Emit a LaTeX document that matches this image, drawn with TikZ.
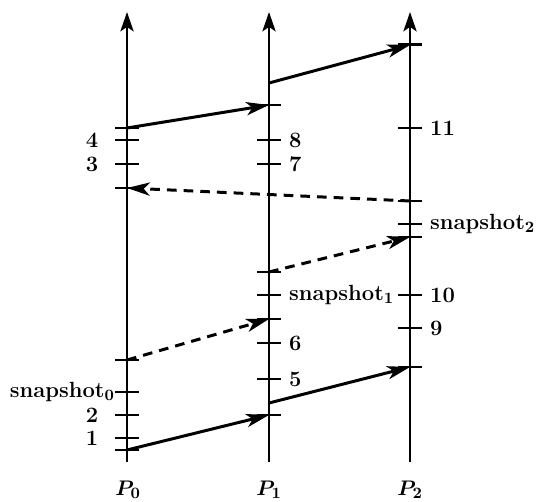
\documentclass[tikz,border=0pt]{standalone}
\usepackage{amsmath,amssymb}
\usepackage{xcolor}
\usetikzlibrary{positioning,arrows.meta}

\begin{document}
\begin{tikzpicture}[x=0.02cm,y=-0.02cm,
    procline/.style={line width=1.5pt,-{Stealth[length=11pt,width=7.5pt,inset=2.5pt]}},
    evtick/.style={line width=1.7pt},
    msg/.style={line width=1.7pt,-{Stealth[length=13pt,width=7.5pt,inset=3.5pt]}},
    marker/.style={msg,dash pattern=on 5.5pt off 4pt},
    lbl/.style={font=\fontsize{12.5}{15}\selectfont\bfseries\boldmath,inner sep=0.5pt}]
  \useasboundingbox (0,0) rectangle (536,502);

  % Process time lines
  \coordinate (P0bot) at (127,462); \coordinate (P0top) at (127,12);
  \coordinate (P1bot) at (269,462); \coordinate (P1top) at (269,12);
  \coordinate (P2bot) at (410,462); \coordinate (P2top) at (410,12);
  \draw[procline] (P0bot) -- (P0top);
  \draw[procline] (P1bot) -- (P1top);
  \draw[procline] (P2bot) -- (P2top);

  % Events of P0 (bottom to top)
  \coordinate (a1) at (127,450);
  \coordinate (a2) at (127,438);
  \coordinate (a3) at (127,415);
  \coordinate (a4) at (127,392);
  \coordinate (a5) at (127,360);
  \coordinate (a6) at (127,188);
  \coordinate (a7) at (127,164);
  \coordinate (a8) at (127,140);
  \coordinate (a9) at (127,128);

  % Events of P1
  \coordinate (b1) at (269,415);
  \coordinate (b2) at (269,403);
  \coordinate (b3) at (269,379);
  \coordinate (b4) at (269,343);
  \coordinate (b5) at (269,319);
  \coordinate (b6) at (269,295);
  \coordinate (b7) at (269,272);
  \coordinate (b8) at (269,164);
  \coordinate (b9) at (269,140);
  \coordinate (b10) at (269,105);
  \coordinate (b11) at (269,83);

  % Events of P2
  \coordinate (c1) at (410,367);
  \coordinate (c2) at (410,328);
  \coordinate (c3) at (410,295);
  \coordinate (c4) at (410,237);
  \coordinate (c5) at (410,224);
  \coordinate (c6) at (410,201);
  \coordinate (c7) at (410,128);
  \coordinate (c8) at (410,45);

  % Ticks
  \foreach \e in {a1,a2,a3,a4,a5,a6,a7,a8,a9,
                  b1,b3,b4,b5,b6,b7,b8,b9,b10,
                  c1,c2,c3,c4,c5,c6,c7,c8}
    \draw[evtick] (\e) ++(-12,0) -- ++(24,0);

  % Messages
  \draw[msg] (a1) -- (b1);
  \draw[msg] (b2) -- (c1);
  \draw[msg] (a9) -- (b10);
  \draw[msg] (b11) -- (c8);
  % Marker messages
  \draw[marker] (a5) -- (b5);
  \draw[marker] (b7) -- (c4);
  \draw[marker] (c6) -- (a6);

  % Labels
  \node[lbl, left=0.55cm of a2] (l1) {1};
  \node[lbl, left=0.55cm of a3] (l2) {2};
  \node[lbl, left=0.55cm of a7] (l3) {3};
  \node[lbl, left=0.55cm of a8] (l4) {4};
  \node[lbl, left=0.22cm of a4] (s0) {snapshot$_0$};
  \node[lbl, right=0.38cm of b3] (l5) {5};
  \node[lbl, right=0.38cm of b4] (l6) {6};
  \node[lbl, right=0.38cm of b8] (l7) {7};
  \node[lbl, right=0.38cm of b9] (l8) {8};
  \node[lbl, right=0.38cm of b6] (s1) {snapshot$_1$};
  \node[lbl, right=0.38cm of c2] (l9) {9};
  \node[lbl, right=0.38cm of c3] (l10) {10};
  \node[lbl, right=0.38cm of c7] (l11) {11};
  \node[lbl, right=0.38cm of c5] (s2) {snapshot$_2$};

  % Process names
  \node[lbl] (p0) at (128,490) {$P_0$};
  \node[lbl] (p1) at (269,490) {$P_1$};
  \node[lbl] (p2) at (410,490) {$P_2$};
\end{tikzpicture}
\end{document}
